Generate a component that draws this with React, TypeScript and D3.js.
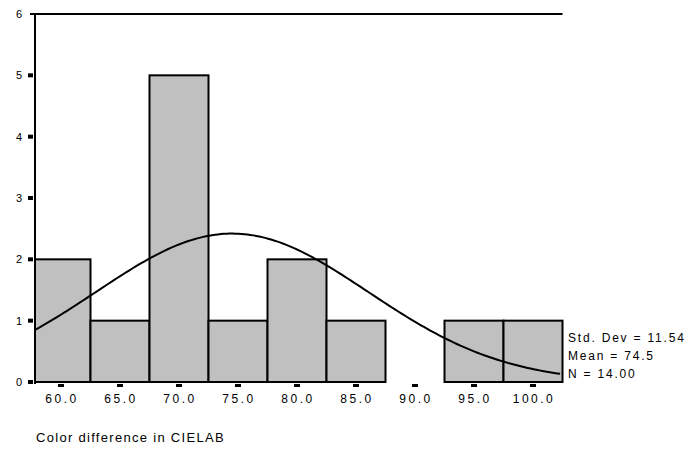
import React from "react";
import * as d3 from "d3";

const binCenters = [60, 65, 70, 75, 80, 85, 90, 95, 100];
const counts = [2, 1, 5, 1, 2, 1, 0, 1, 1];
const yTicks = [0, 1, 2, 3, 4, 5, 6];
const xTickLabels = ["60.0", "65.0", "70.0", "75.0", "80.0", "85.0", "90.0", "95.0", "100.0"];
const statLines = ["Std. Dev = 11.54", "Mean = 74.5", "N = 14.00"];
const stdDev = 11.54;
const mean = 74.5;
const n = 14;
const binWidth = 5;
const xTitle = "Color difference in CIELAB";

export default function App() {
  const W = 691, H = 449;
  const x = d3.scaleLinear().domain([60, 100]).range([53, 525]);
  const y = d3.scaleLinear().domain([0, 6]).range([374, 6]);
  const x0 = x.invert(27);
  const xEnd = 102.5;
  const left = x(x0);
  const right = x(xEnd);

  const peak = (n * binWidth) / (stdDev * Math.sqrt(2 * Math.PI));
  const curveVals = d3.range(x0, xEnd + 0.001, 0.25);
  const line = d3
    .line<number>()
    .x((v) => x(v))
    .y((v) => y(peak * Math.exp(-0.5 * ((v - mean) / stdDev) ** 2)));

  const font = "Arial, 'Liberation Sans', sans-serif";

  return (
    <svg width={W} height={H} style={{ display: "block", position: "absolute", left: 0, top: 0 }} viewBox={`-8 -8 ${W} ${H}`}>
      <rect x={-8} y={-8} width={W} height={H} fill="#fff" />
      {/* bars */}
      {binCenters.map((c, i) =>
        counts[i] > 0 ? (
          <rect
            key={c}
            x={Math.max(left, x(c - binWidth / 2))}
            y={y(counts[i])}
            width={x(c + binWidth / 2) - Math.max(left, x(c - binWidth / 2))}
            height={y(0) - y(counts[i])}
            fill="#c0c0c0"
            stroke="#000"
            strokeWidth={2}
          />
        ) : null
      )}
      {/* axes */}
      <line x1={left} x2={left} y1={y(6) - 1} y2={y(0) + 2} stroke="#000" strokeWidth={2} />
      <line x1={left - 5} x2={right} y1={y(6)} y2={y(6)} stroke="#000" strokeWidth={2} />
      {yTicks.slice(0, 6).map((t) => (
        <rect key={t} x={left - 7} y={y(t) - 2} width={5} height={4} fill="#000" />
      ))}
      {yTicks.map((t) => (
        <text key={"l" + t} x={left - 13} y={y(t) + 4} textAnchor="end" fontFamily={font} fontSize={11} fill="#000">
          {t}
        </text>
      ))}
      {binCenters.map((c, i) => (
        <rect key={"t" + c} x={x(c) - 3} y={y(0) + 2} width={6} height={3} fill="#000" />
      ))}
      {binCenters.map((c, i) => (
        <text
          key={"xl" + c}
          x={x(c) + 1}
          y={395}
          textAnchor="middle"
          fontFamily={font}
          fontSize={12}
          letterSpacing={2.5}
          fill="#000"
        >
          {xTickLabels[i]}
        </text>
      ))}
      {/* normal curve */}
      <path d={line(curveVals) || ""} fill="none" stroke="#000" strokeWidth={2} />
      {/* stats */}
      {statLines.map((s, i) => (
        <text key={s} x={560} y={334 + i * 18} fontFamily={font} fontSize={12} letterSpacing={1.8} fill="#000">
          {s}
        </text>
      ))}
      <text x={28} y={434} fontFamily={font} fontSize={13} letterSpacing={1.3} fill="#000">
        {xTitle}
      </text>
    </svg>
  );
}
